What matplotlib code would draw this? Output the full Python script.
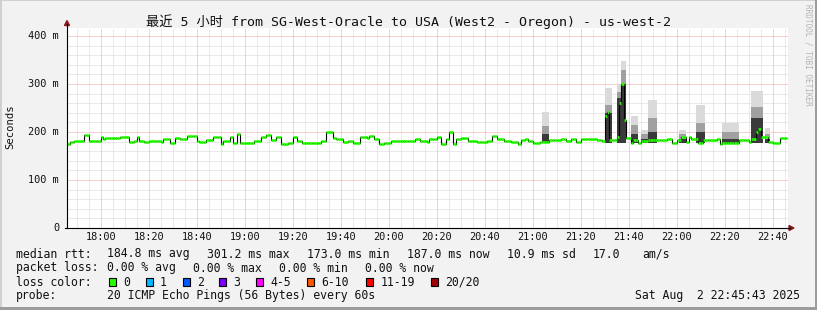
import matplotlib
matplotlib.use("Agg")
import matplotlib.pyplot as plt
import numpy as np
from matplotlib.lines import Line2D
from matplotlib.patches import Rectangle, Polygon

# ---------------- data ----------------
title = "最近 5 小时 from SG-West-Oracle to USA (West2 - Oregon) - us-west-2"
data_start = "17:46"          # first minute of the series (1 value / minute)
median_ms = [
    175, 180, 180, 182, 182, 182, 182, 194, 194, 182,
    182, 182, 182, 182, 189, 185, 187, 187, 187, 187,
    187, 187, 190, 190, 189, 189, 179, 179, 182, 190,
    182, 182, 179, 179, 182, 182, 182, 182, 182, 180,
    185, 185, 185, 178, 178, 187, 187, 185, 185, 185,
    192, 192, 192, 192, 182, 179, 179, 179, 183, 183,
    183, 189, 189, 189, 175, 182, 182, 182, 189, 178,
    178, 196, 178, 178, 178, 178, 178, 178, 182, 182,
    182, 190, 190, 193, 193, 183, 183, 189, 189, 175,
    175, 175, 178, 178, 190, 190, 182, 182, 178, 178,
    178, 178, 178, 178, 178, 178, 182, 182, 199, 199,
    199, 187, 185, 185, 185, 179, 179, 182, 182, 178,
    178, 178, 190, 190, 190, 187, 192, 192, 185, 185,
    176, 176, 178, 178, 178, 182, 182, 182, 182, 182,
    182, 182, 182, 182, 182, 185, 185, 182, 182, 182,
    179, 185, 185, 185, 189, 189, 176, 176, 185, 200,
    200, 176, 185, 185, 187, 187, 187, 182, 182, 182,
    182, 179, 179, 179, 179, 182, 182, 191, 191, 185,
    185, 185, 182, 182, 182, 179, 179, 179, 176, 183,
    183, 186, 181, 181, 178, 178, 178, 179, 179, 179,
    179, 184, 184, 184, 184, 184, 186, 186, 181, 181,
    185, 185, 180, 180, 185, 185, 185, 186, 186, 185,
    185, 183, 183, 182, 234, 242, 183, 183, 183, 189,
    261, 301, 224, 187, 187, 178, 184, 184, 178, 181,
    181, 181, 184, 184, 184, 184, 183, 183, 183, 183,
    186, 186, 178, 178, 183, 183, 189, 189, 180, 190,
    186, 186, 186, 178, 178, 183, 183, 183, 183, 184,
    184, 186, 176, 177, 177, 177, 177, 177, 178, 178,
    184, 184, 184, 184, 180, 186, 186, 201, 206, 189,
    189, 189, 180, 180, 178, 178, 178, 187, 187, 187,
]
# smoke (spread of the 20 pings) for minutes with visible spread
smoke_first = [198, 224, 229, 231, 235, 239, 242, 255, 262, 273, 285, 291]
smoke_last  = [200, 226, 230, 232, 237, 241, 245, 257, 265, 279, 289, 292]
smoke_low   = [178, 178, 178, 178, 178, 178, 178, 178, 178, 178, 178, 178]
smoke_top   = [241, 291, 300, 347, 233, 204, 267, 204, 256, 219, 286, 208]
smoke_mid   = [212, 256, 284, 329, 215, 195, 229, 195, 219, 200, 253, 195]
smoke_dark  = [195, 240, 270, 300, 195, 185, 200, 186, 200, 185, 230, 186]

time_labels = ["18:00", "18:20", "18:40", "19:00", "19:20", "19:40", "20:00",
               "20:20", "20:40", "21:00", "21:20", "21:40", "22:00", "22:20", "22:40"]
y_ticks = [0, 100, 200, 300, 400]
y_labels = ["0", "100 m", "200 m", "300 m", "400 m"]

rtt_items = ["184.8 ms avg", "301.2 ms max", "173.0 ms min", "187.0 ms now",
             "10.9 ms sd", "17.0", "am/s"]
loss_items = ["0.00 % avg", "0.00 % max", "0.00 % min", "0.00 % now"]
loss_names = ["0", "1", "2", "3", "4-5", "6-10", "11-19", "20/20"]
loss_colors = ["#26ff00", "#00b8ff", "#0059ff", "#7e00ff", "#ff00ff",
               "#ff5500", "#ff0000", "#a10000"]
probe_text = "20 ICMP Echo Pings (56 Bytes) every 60s"
date_text = "Sat Aug  2 22:45:43 2025"

# ---------------- layout helpers ----------------
W, H = 817, 310
fig = plt.figure(figsize=(W / 100, H / 100), dpi=100)
fig.patch.set_facecolor("#f2f2f2")
MONO = ["DejaVu Sans Mono", "Noto Sans CJK SC"]


def fx(px):
    return px / W


def fy(py):
    return 1 - py / H


def hm(s):
    h, m = s.split(":")
    return int(h) * 60 + int(m) - 18 * 60


L, R, T, B = 67, 788, 28, 228
ax = fig.add_axes([fx(L), fy(B), (R - L) / W, (B - T) / H])
ax.set_facecolor("white")
x0 = hm(data_start)
xmin = (L - 100.7) / 2.4
xmax = (R - 100.7) / 2.4
ymax = (B - T) / 0.48
ax.set_xlim(xmin, xmax)
ax.set_ylim(0, ymax)

# grid
dash = (0, (1, 1))
for t in np.arange(-10, 290, 5):
    major = (t % 20 == 0)
    ax.axvline(t, color="#f2a0a0" if major else "#d4d4d4", lw=0.72,
               linestyle=dash, zorder=1 if major else 0.5)
for v in np.arange(20, 420, 20):
    major = (v % 100 == 0)
    ax.axhline(v, color="#f2a0a0" if major else "#d4d4d4", lw=0.72,
               linestyle=dash, zorder=1 if major else 0.5)

# smoke
for a, b, lo, top, mid, dk in zip(smoke_first, smoke_last, smoke_low,
                                  smoke_top, smoke_mid, smoke_dark):
    xs = [x0 + a, x0 + b + 1]
    ax.fill_between(xs, lo, top, color="#dadada", lw=0, zorder=2)
    ax.fill_between(xs, lo, mid, color="#a0a0a0", lw=0, zorder=2.1)
    ax.fill_between(xs, lo, dk, color="#3a3a3a", lw=0, zorder=2.2)

# median
vals = np.array(median_ms, dtype=float)
edges = x0 + np.arange(len(vals) + 1)
ax.stairs(vals, edges, baseline=None, color="black", lw=0.8, zorder=3)
ax.hlines(vals, edges[:-1], edges[1:], color=loss_colors[0], lw=1.9,
          zorder=4, capstyle="butt")

# axes
for s in ax.spines.values():
    s.set_visible(False)
ax.set_xticks([])
ax.set_yticks([])
fig.add_artist(Line2D([fx(L), fx(L)], [fy(B), fy(24)], color="black", lw=0.8))
fig.add_artist(Line2D([fx(L - 2), fx(790)], [fy(B), fy(B)], color="black", lw=0.8))
fig.add_artist(Polygon([[fx(64.5), fy(25.5)], [fx(69.5), fy(25.5)], [fx(67), fy(20.5)]],
                       closed=True, color="#8b1a1a", transform=fig.transFigure))
fig.add_artist(Polygon([[fx(789), fy(225.5)], [fx(789), fy(230.5)], [fx(794), fy(228)]],
                       closed=True, color="#8b1a1a", transform=fig.transFigure))

# tick labels
for lab in time_labels:
    t = hm(lab)
    ax.text(t, -8.5 / 0.48, lab, ha="center", va="center", fontsize=7.4,
            family=MONO, color="#111111", clip_on=False)
for v, lab in zip(y_ticks, y_labels):
    ax.text(xmin - 8 / 2.4, v, lab, ha="right", va="center", fontsize=7.4,
            family=MONO, color="#111111", clip_on=False)

# title and side texts
fig.text(fx(408.5), fy(22), title, ha="center", va="center", fontsize=9.5,
         family=MONO, color="#111111")
fig.text(fx(10), fy(127), "Seconds", rotation=90, ha="center", va="center",
         fontsize=7.6, family=MONO, color="#111111")
fig.text(fx(808), fy(4), "RRDTOOL / TOBI OETIKER", rotation=-90, ha="center",
         va="top", fontsize=5.6, family=MONO, color="#b4b4b4")

# legend
LF = 8.3
rtt_x = [107, 207, 307, 407, 507, 593, 642]
fig.text(fx(16), fy(254), "median rtt:", ha="left", va="center", fontsize=LF,
         family=MONO, color="#111111")
for xx, s in zip(rtt_x, rtt_items):
    fig.text(fx(xx), fy(254), s, ha="left", va="center", fontsize=LF,
             family=MONO, color="#111111")
loss_x = [107, 193, 279, 365]
fig.text(fx(16), fy(268), "packet loss:", ha="left", va="center", fontsize=LF,
         family=MONO, color="#111111")
for xx, s in zip(loss_x, loss_items):
    fig.text(fx(xx), fy(268), s, ha="left", va="center", fontsize=LF,
             family=MONO, color="#111111")
fig.text(fx(16), fy(282), "loss color:", ha="left", va="center", fontsize=LF,
         family=MONO, color="#111111")
box_x = [109, 145.7, 182.7, 219.3, 256, 307.3, 366, 430.7]
for bx, name, c in zip(box_x, loss_names, loss_colors):
    fig.add_artist(Rectangle((fx(bx), fy(286)), 7 / W, 8 / H, transform=fig.transFigure,
                             facecolor=c, edgecolor="black", lw=0.8))
    fig.text(fx(bx + 14.3), fy(282), name, ha="left", va="center", fontsize=LF,
             family=MONO, color="#111111")
fig.text(fx(16), fy(296), "probe:", ha="left", va="center", fontsize=LF,
         family=MONO, color="#111111")
fig.text(fx(107), fy(296), probe_text, ha="left", va="center", fontsize=LF,
         family=MONO, color="#111111")
fig.text(fx(800), fy(296), date_text, ha="right", va="center", fontsize=LF,
         family=MONO, color="#111111")

# 3D-ish frame
fig.add_artist(Rectangle((0, fy(1)), 1, 1 / H, transform=fig.transFigure,
                         color="#d0d0d0", lw=0))
fig.add_artist(Rectangle((0, 0), 1.5 / W, 1, transform=fig.transFigure,
                         color="#d0d0d0", lw=0))
fig.add_artist(Rectangle((0, 0), 1, 3 / H, transform=fig.transFigure,
                         color="#9c9c9c", lw=0))
fig.add_artist(Rectangle((1 - 2 / W, 0), 2 / W, 1, transform=fig.transFigure,
                         color="#9c9c9c", lw=0))

fig.savefig("out.png", dpi=100, facecolor=fig.get_facecolor())
